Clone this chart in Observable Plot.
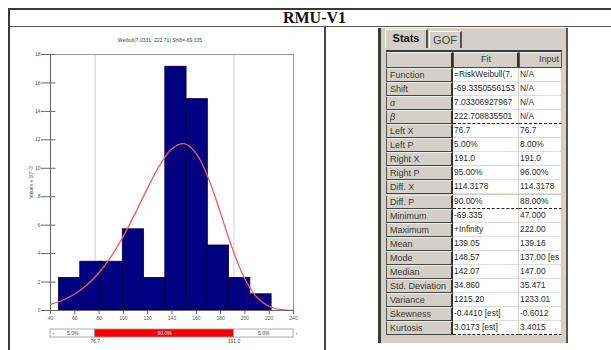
<!DOCTYPE html>
<html><head><meta charset="utf-8">
<script src="https://cdn.jsdelivr.net/npm/d3@7"></script>
<script src="https://cdn.jsdelivr.net/npm/@observablehq/plot@0.6"></script>
<style>
body{margin:0;background:#fff;}
#root{position:relative;width:611px;height:350px;overflow:hidden;font-family:"Liberation Sans",Arial,sans-serif;}
.a{position:absolute;box-sizing:border-box;}
.cell{position:absolute;box-sizing:border-box;font-size:9px;line-height:13px;white-space:nowrap;overflow:hidden;color:#2a2a2a;padding-left:2px;}
.lab{background:#d4d0c8;border-left:1px solid #555;border-right:2px solid #333;border-bottom:1px solid #444;border-top:1px solid #eee;color:#3a3a3a;padding-left:3px;}
.val{background:#fff;border-bottom:1px solid #ddd;border-right:1px solid #ccc;font-size:8.4px;padding-left:1px;}
.dash{border-bottom:1.5px dashed #222;}
</style></head><body><div id="root"></div>
<script>
// ---- data ----
const pageTitle = "RMU-V1";
const chartTitle = "Weibull(7.0331; 222.71) Shift=-69.335";
const yAxisTitle = "Values x 10^-3";
const binEdges = [47, 64.5, 82, 99.5, 117, 134.5, 152, 169.5, 187, 204.5, 222];
const binDensity = [2.29, 3.43, 3.43, 5.71, 2.29, 17.14, 14.86, 4.57, 2.29, 1.14];
const curveX = [40, 50, 60, 70, 80, 90, 100, 110, 120, 130, 140, 150, 160, 170, 180, 190, 200, 210, 220, 230, 240];
const curveY = [0.43, 0.72, 1.16, 1.80, 2.67, 3.81, 5.23, 6.88, 8.62, 10.23, 11.38, 11.73, 11.03, 9.28, 6.83, 4.28, 2.21, 0.91, 0.28, 0.06, 0.01];
const xTicks = [40, 60, 80, 100, 120, 140, 160, 180, 200, 220, 240];
const yTicks = [0, 2, 4, 6, 8, 10, 12, 14, 16, 18];
const xDomain = [40, 240];
const yDomain = [0, 18];
const leftX = 76.7, rightX = 191.0;
const delimPercents = ["5.0%", "90.0%", "5.0%"];
const tabNames = ["Stats", "GOF"];
const colHeads = ["", "Fit", "Input"];
const statLabels = ["Function", "Shift", "α", "β", "Left X", "Left P", "Right X", "Right P", "Diff. X", "Diff. P", "Minimum", "Maximum", "Mean", "Mode", "Median", "Std. Deviation", "Variance", "Skewness", "Kurtosis"];
const fitValues = ["=RiskWeibull(7.", "-69.3350556153", "7.03306927967", "222.708835501", "76.7", "5.00%", "191.0", "95.00%", "114.3178", "90.00%", "-69.335", "+Infinity", "139.05", "148.57", "142.07", "34.860", "1215.20", "-0.4410 [est]", "3.0173 [est]"];
const inputValues = ["N/A", "N/A", "N/A", "N/A", "76.7", "8.00%", "191.0", "96.00%", "114.3178", "88.00%", "47.000", "222.00", "139.16", "137.00 [es", "147.00", "35.471", "1233.01", "-0.6012", "3.4015"];
const dashedAfter = ["β", "Diff. P", "Kurtosis"];

// ---- page frame ----
const root = document.getElementById("root");
function box(css, html) { const d = document.createElement("div"); d.className = "a"; d.style.cssText = css; if (html !== undefined) d.innerHTML = html; root.appendChild(d); return d; }
box("left:8px;top:8px;width:603px;height:2px;background:#3a3a3a;");
box("left:8px;top:8px;width:2px;height:342px;background:#3a3a3a;");
box("left:8px;top:26px;width:603px;height:1px;background:#555;");
box("left:324px;top:27px;width:2px;height:323px;background:#444;");
const t = box("left:10px;top:9px;width:601px;height:17px;text-align:center;font-family:'Liberation Serif','Times New Roman',serif;font-weight:bold;font-size:16px;line-height:18px;color:#111;padding-left:8px;");
t.textContent = pageTitle;

// chart title
const ct = box("left:60px;top:37px;width:200px;text-align:center;font-size:5px;line-height:6px;color:#444;");
ct.textContent = chartTitle;

// ---- main chart ----
const bins = binDensity.map((d, i) => ({x1: binEdges[i], x2: binEdges[i + 1], y: d}));
const curve = curveX.map((x, i) => ({x, y: curveY[i]}));
const chart = Plot.plot({
  width: 314, height: 322, marginLeft: 40, marginRight: 31, marginTop: 26, marginBottom: 40,
  x: {domain: xDomain}, y: {domain: yDomain},
  style: {fontSize: "5px", fontFamily: "Liberation Sans, Arial, sans-serif", color: "#555", background: "transparent"},
  marks: [
    Plot.ruleX([leftX, rightX], {y1: yDomain[0], y2: yDomain[1], stroke: "#cfcfcf", strokeWidth: 1}),
    Plot.ruleX([xDomain[1]], {y1: yDomain[0], y2: yDomain[1], stroke: "#9a9a9a"}),
    Plot.ruleY([yDomain[1]], {x1: xDomain[0], x2: xDomain[1], stroke: "#9a9a9a"}),
    Plot.rectY(bins, {x1: "x1", x2: "x2", y: "y", fill: "#000080", stroke: "#00002e", strokeWidth: 0.8}),
    Plot.line(curve, {x: "x", y: "y", stroke: "#ff5555", strokeWidth: 1.3, curve: "catmull-rom"}),
    Plot.ruleX([xDomain[0]], {y1: yDomain[0], y2: yDomain[1], stroke: "#666"}),
    Plot.ruleY([yDomain[0]], {x1: xDomain[0], x2: xDomain[1], stroke: "#666"}),
    Plot.ruleY(yTicks, {x1: xDomain[0], x2: xDomain[0] + 4.5, stroke: "#666"}),
    Plot.axisX(xTicks, {tickSize: 4, tickPadding: 2, stroke: "#666", label: null}),
    Plot.axisY(yTicks, {tickSize: 9, tickPadding: 1, stroke: "#666", label: yAxisTitle, labelAnchor: "center", labelOffset: 21, labelArrow: "none"})
  ]
});
chart.style.position = "absolute"; chart.style.left = "10px"; chart.style.top = "28px";
root.appendChild(chart);

// ---- delimiter bar ----
const segEdges = [xDomain[0], leftX, rightX, xDomain[1]];
const segs = delimPercents.map((p, i) => ({x1: segEdges[i], x2: segEdges[i + 1], p, fill: i === 1 ? "#ff0000" : "#ffffff", tf: i === 1 ? "#ffffff" : "#444"}));
const delim = Plot.plot({
  width: 314, height: 24, marginLeft: 40, marginRight: 31, marginTop: 0, marginBottom: 0,
  x: {domain: xDomain, axis: null}, y: {domain: [0, 1], range: [13, 5], axis: null},
  style: {fontSize: "5px", fontFamily: "Liberation Sans, Arial, sans-serif", background: "transparent"},
  marks: [
    Plot.rect(segs, {x1: "x1", x2: "x2", y1: 0, y2: 1, fill: "fill", stroke: "#999", strokeWidth: 0.8}),
    Plot.text(segs, {x: d => (d.x1 + d.x2) / 2, y: 0.5, text: "p", fill: "tf", fontWeight: d => d.fill === "#ff0000" ? "bold" : "normal"}),
    Plot.text([leftX, rightX], {x: d => d, y: -0.5, text: d => d.toFixed(1), fill: "#444"}),
    Plot.text(["‹", "›"], {x: (d, i) => xDomain[i], y: 0.5, text: d => d, fill: "#666", textAnchor: "middle", dx: 3})
  ]
});
delim.style.position = "absolute"; delim.style.left = "10px"; delim.style.top = "324px";
root.appendChild(delim);

// ---- stats panel ----
box("left:378px;top:28px;width:190px;height:315px;background:#d4d0c8;border-left:3px solid #3c3c3c;border-right:2px solid #555;");
// tabs
const tabX = [385, 429], tabW = [43, 33];
tabNames.forEach((n, i) => {
  const b = box(`left:${tabX[i]}px;top:${i === 0 ? 29 : 31}px;width:${tabW[i]}px;height:${i === 0 ? 19 : 17}px;border-left:1px solid #fff;border-top:1px solid #fff;border-right:2px solid #555;font-size:11px;line-height:17px;text-align:center;color:${i === 0 ? "#111" : "#444"};font-weight:${i === 0 ? "bold" : "normal"};background:#d4d0c8;`);
  b.textContent = n;
});
// table
const tl = 386, colL = [386, 453, 519], colW = [67, 66, 43];
box(`left:${tl}px;top:50px;width:176px;height:2px;background:#3a3a3a;`);
colHeads.forEach((h, j) => {
  const c = document.createElement("div");
  c.className = "cell lab";
  c.style.cssText = `left:${colL[j]}px;top:52px;width:${colW[j]}px;height:15.6px;text-align:${j === 1 ? "center" : j === 2 ? "right" : "left"};padding-right:2px;border-right:${j === 1 ? "2px solid #333" : j === 2 ? "1px solid #555" : "2px solid #333"};`;
  c.textContent = h;
  root.appendChild(c);
});
const r0 = 67.6, rh = 14.1;
statLabels.forEach((lab, i) => {
  const top = r0 + i * rh;
  const dashed = dashedAfter.includes(lab);
  const vals = [lab, fitValues[i], inputValues[i]];
  vals.forEach((v, j) => {
    const c = document.createElement("div");
    c.className = "cell " + (j === 0 ? "lab" : "val") + (dashed && j > 0 ? " dash" : "");
    c.style.cssText = `left:${colL[j]}px;top:${top}px;width:${colW[j]}px;height:${rh}px;` + (j === 0 && (lab === "α" || lab === "β") ? "font-style:italic;" : "");
    c.textContent = v;
    root.appendChild(c);
  });
});
</script>
</body></html>
